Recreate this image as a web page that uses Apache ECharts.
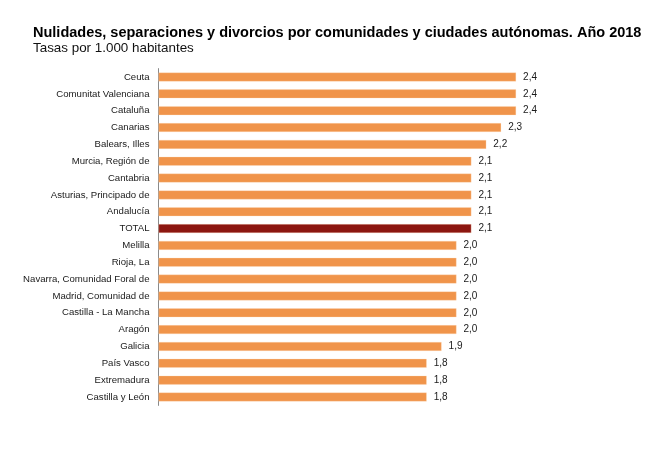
<!DOCTYPE html>
<html>
<head>
<meta charset="utf-8">
<script src="https://cdn.jsdelivr.net/npm/echarts@6/dist/echarts.min.js"></script>
<style>
  html, body { margin: 0; padding: 0; background: #fff; }
  #chart { width: 658px; height: 451px; }
</style>
</head>
<body>
<div id="chart"></div>
<script>
const categories = [
  "Ceuta", "Comunitat Valenciana", "Cataluña", "Canarias", "Balears, Illes",
  "Murcia, Región de", "Cantabria", "Asturias, Principado de", "Andalucía", "TOTAL",
  "Melilla", "Rioja, La", "Navarra, Comunidad Foral de", "Madrid, Comunidad de",
  "Castilla - La Mancha", "Aragón", "Galicia", "País Vasco", "Extremadura", "Castilla y León"
];
const rates = [2.4, 2.4, 2.4, 2.3, 2.2, 2.1, 2.1, 2.1, 2.1, 2.1,
  2.0, 2.0, 2.0, 2.0, 2.0, 2.0, 1.9, 1.8, 1.8, 1.8];

const orange = "#f0944a";
const totalColor = "#8c1610";

const chart = echarts.init(document.getElementById("chart"));
chart.setOption({
  animation: false,
  textStyle: { fontFamily: "Liberation Sans, Arial, sans-serif" },
  title: {
    text: "Nulidades, separaciones y divorcios por comunidades y ciudades autónomas. Año 2018",
    subtext: "Tasas por 1.000 habitantes",
    left: 28,
    top: 20,
    itemGap: 2,
    textStyle: { fontSize: 14.5, fontWeight: "bold", color: "#000" },
    subtextStyle: { fontSize: 13.4, color: "#111" }
  },
  grid: { left: 158.5, right: 52.5, top: 68.6, bottom: 45.6, containLabel: false },
  xAxis: {
    type: "value",
    min: 0,
    max: 3,
    show: false
  },
  yAxis: {
    type: "category",
    data: categories,
    inverse: true,
    axisLine: { lineStyle: { color: "#8a8a8a", width: 1 } },
    axisTick: { length: 3, lineStyle: { color: "#8a8a8a" } },
    axisLabel: { fontSize: 9.6, color: "#1a1a1a", margin: 9 }
  },
  series: [{
    type: "bar",
    data: rates.map((v, i) => ({
      value: v,
      itemStyle: { color: categories[i] === "TOTAL" ? totalColor : orange }
    })),
    barWidth: 9,
    itemStyle: { borderColor: "rgba(255,220,190,0.6)", borderWidth: 0.5 },
    label: {
      show: true,
      position: "right",
      distance: 7,
      fontSize: 10,
      color: "#1a1a1a",
      formatter: p => p.value.toFixed(1).replace(".", ",")
    }
  }]
});
</script>
</body>
</html>
